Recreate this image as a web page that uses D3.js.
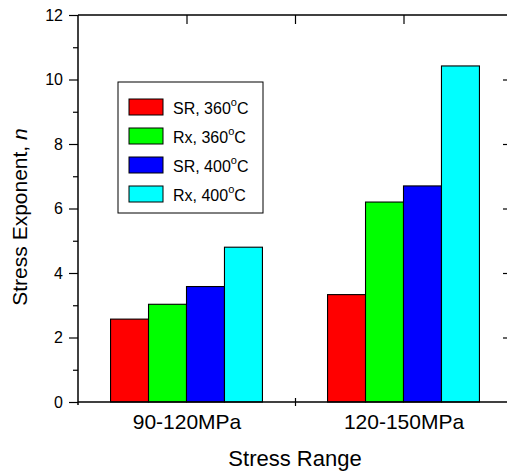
<!DOCTYPE html>
<html>
<head>
<meta charset="utf-8">
<script src="https://cdn.jsdelivr.net/npm/d3@7"></script>
<style>
  body { margin: 0; background: #fff; }
  text { font-family: "Liberation Sans", Arial, sans-serif; fill: #000; }
</style>
</head>
<body>
<div id="chart"></div>
<script>
var categories = ["90-120MPa", "120-150MPa"];
var seriesNames = ["SR, 360", "Rx, 360", "SR, 400", "Rx, 400"];
var seriesColors = ["#ff0000", "#00ff00", "#0000ff", "#00ffff"];
// values per series, one per category
var sr360 = [2.57, 3.33];
var rx360 = [3.03, 6.2];
var sr400 = [3.58, 6.7];
var rx400 = [4.8, 10.42];
var yTicks = [0, 2, 4, 6, 8, 10, 12];
var yMinorTicks = [1, 3, 5, 7, 9, 11];

var series = [sr360, rx360, sr400, rx400];

var width = 507, height = 473;
var margin = {top: 15, right: -5, bottom: 71, left: 78};
var plotW = width - margin.left - margin.right,
    plotH = height - margin.top - margin.bottom;

var svg = d3.select("#chart").append("svg")
  .attr("width", width)
  .attr("height", height);

var g = svg.append("g").attr("transform", "translate(" + margin.left + "," + margin.top + ")");

var x = d3.scaleLinear().domain([0.5, 2.5]).range([0, plotW]);
var y = d3.scaleLinear().domain([0, 12]).range([plotH, 0]);

var groupW = 0.7;
var barW = x(groupW) - x(0);
var sub = d3.scaleBand().domain(d3.range(series.length)).range([-barW / 2, barW / 2]);

// bars
series.forEach(function(vals, si) {
  g.selectAll(".bar" + si)
    .data(vals)
    .enter().append("rect")
    .attr("x", function(d, i) { return x(i + 1) + sub(si); })
    .attr("y", function(d) { return y(d); })
    .attr("width", sub.bandwidth())
    .attr("height", function(d) { return y(0) - y(d); })
    .attr("fill", seriesColors[si])
    .attr("stroke", "#000")
    .attr("stroke-width", 1.1);
});

// left axis
var left = g.append("g").call(d3.axisLeft(y).tickValues(yTicks).tickSize(9).tickPadding(6));
left.selectAll("text").style("font-size", "16px");
g.append("g").call(d3.axisLeft(y).tickValues(yMinorTicks).tickSize(5).tickFormat(""));

// right axis ticks (inward, majors only)
g.append("g").attr("transform", "translate(" + plotW + ",0)")
  .call(d3.axisLeft(y).tickValues(yTicks.slice(1, -1)).tickSize(9).tickFormat(""));

// top axis ticks (inward)
g.append("g")
  .call(d3.axisBottom(x).tickValues([1, 1.5, 2]).tickSize(9).tickFormat(""));

// bottom axis
var bottom = g.append("g").attr("transform", "translate(0," + plotH + ")")
  .call(d3.axisBottom(x).tickValues([1, 2]).tickSize(0).tickPadding(12)
    .tickFormat(function(d) { return categories[d - 1]; }));
bottom.selectAll("text").style("font-size", "21px");
g.append("g").attr("transform", "translate(0," + plotH + ")")
  .call(d3.axisBottom(x).tickValues([1.5]).tickSize(4).tickFormat(""));
g.append("g").attr("transform", "translate(0," + plotH + ")")
  .call(d3.axisTop(x).tickValues([1.5]).tickSize(4).tickFormat(""));

svg.selectAll(".domain").remove();
svg.selectAll(".tick line").attr("stroke", "#000").attr("stroke-width", 1.2);

// frame
g.append("line").attr("x1", 0).attr("x2", 0).attr("y1", 0).attr("y2", plotH + 3)
  .attr("stroke", "#000").attr("stroke-width", 1.5);
g.append("line").attr("x1", 0).attr("x2", plotW).attr("y1", plotH).attr("y2", plotH)
  .attr("stroke", "#000").attr("stroke-width", 1.5);
g.append("line").attr("x1", 0).attr("x2", plotW).attr("y1", 0).attr("y2", 0)
  .attr("stroke", "#000").attr("stroke-width", 1.5);
g.append("line").attr("x1", plotW).attr("x2", plotW).attr("y1", 0).attr("y2", plotH)
  .attr("stroke", "#000").attr("stroke-width", 1.5);

// axis titles
svg.append("text")
  .attr("x", margin.left + x(1.5))
  .attr("y", 466)
  .attr("text-anchor", "middle")
  .style("font-size", "22px")
  .text("Stress Range");

var yt = svg.append("text")
  .attr("transform", "translate(27," + 217 + ") rotate(-90)")
  .attr("text-anchor", "middle")
  .style("font-size", "21px");
yt.append("tspan").text("Stress Exponent, ");
yt.append("tspan").style("font-style", "italic").text("n");

// legend
var legend = svg.append("g").attr("transform", "translate(118,82)");
legend.append("rect")
  .attr("width", 145).attr("height", 131)
  .attr("fill", "#fff").attr("stroke", "#000").attr("stroke-width", 1);
var items = legend.selectAll(".item").data(seriesNames).enter().append("g")
  .attr("transform", function(d, i) { return "translate(11," + (17 + i * 29) + ")"; });
items.append("rect")
  .attr("width", 34).attr("height", 16)
  .attr("fill", function(d, i) { return seriesColors[i]; })
  .attr("stroke", "#000").attr("stroke-width", 1);
var lt = items.append("text")
  .attr("x", 44).attr("y", 15)
  .style("font-size", "16px");
lt.append("tspan").text(function(d) { return d; });
lt.append("tspan").attr("dy", -8).style("font-size", "11px").text("o");
lt.append("tspan").attr("dy", 8).text("C");
</script>
</body>
</html>
